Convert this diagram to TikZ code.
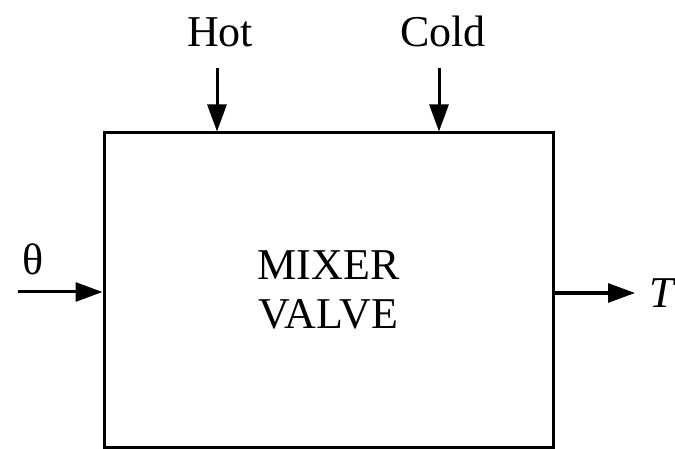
\documentclass[tikz,border=0pt]{standalone}
\usepackage{fontspec}
\setmainfont{Liberation Serif}
\usetikzlibrary{arrows.meta}
\begin{document}
\begin{tikzpicture}[x=1pt,y=-1pt,
  lbl/.style={font=\fontsize{44}{49}\selectfont, inner sep=0pt},
  sig/.style={line width=3pt, -{Triangle[length=27pt,width=19pt]}},
  blockbox/.style={draw, line width=3pt, minimum width=449pt, minimum height=314pt,
     align=center, font=\fontsize{44}{49}\selectfont, inner sep=0pt}]
\useasboundingbox (0,0) rectangle (675,449);
\clip (0,0) rectangle (675,449);
\node[blockbox] (box) at (328.5,290) {MIXER\\VALVE};
\node[lbl, anchor=base] (hot) at (220,47) {Hot};
\node[lbl, anchor=base] (cold) at (443,47) {Cold};
\node[lbl, anchor=base] (theta) at (33,275) {θ};
\node[lbl, anchor=base west] (tout) at (649,307) {\itshape T};
\coordinate (hs) at (217,68);
\coordinate (cs) at (439,68);
\coordinate (ts) at (18,292);
\coordinate (te) at (635,293);
\draw[sig] (hs) -- (hs |- box.north);
\draw[sig] (cs) -- (cs |- box.north);
\draw[sig] (ts) -- (ts -| box.west);
\draw[sig] (te -| box.east) -- (te);
\end{tikzpicture}
\end{document}
